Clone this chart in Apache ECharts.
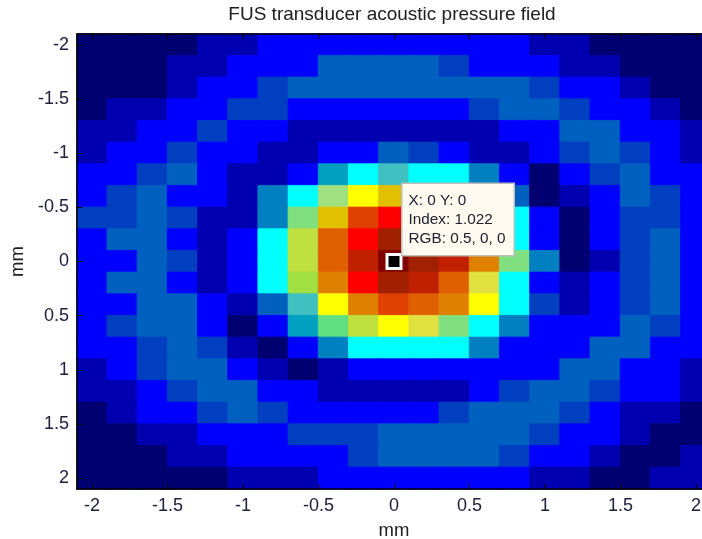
<!DOCTYPE html>
<html><head><meta charset="utf-8">
<style>html,body{margin:0;padding:0;background:#fff;overflow:hidden}#c{width:702px;height:539px}</style>
<script src="https://cdn.jsdelivr.net/npm/echarts@6/dist/echarts.min.js"></script>
</head><body><div id="c"></div>
<script>
const cellCenters = ['-2','-1.8','-1.6','-1.4','-1.2','-1','-0.8','-0.6','-0.4','-0.2','0','0.2','0.4','0.6','0.8','1','1.2','1.4','1.6','1.8','2'];
const tickValues = [-2,-1.5,-1,-0.5,0,0.5,1,1.5,2];
const levelColors = ['#000070','#0000B0','#0000FF','#0040C0','#0060C0','#0080C0','#00A0C0','#00FFFF','#40C0C0','#60E080','#80E080','#A0E080','#A0E040','#C0E040','#E0E040','#FFFF00','#E0C000','#E08000','#E06000','#E04000','#FF0000','#C02000','#A02000','#800000'];
const row00 = [0,0,0,0,1,1,2,2,2,2,2,2,2,2,2,1,1,0,0,0,0];
const row01 = [0,0,0,1,1,2,2,2,4,4,4,4,3,2,2,2,1,1,0,0,0];
const row02 = [0,0,0,1,2,2,3,4,4,4,4,4,4,4,4,3,2,2,1,0,0];
const row03 = [0,1,1,2,2,3,3,2,2,2,2,2,2,3,4,4,3,2,2,1,0];
const row04 = [1,1,2,2,3,2,2,1,1,1,1,1,1,1,2,2,4,4,2,2,1];
const row05 = [1,2,2,3,2,2,1,1,2,2,4,3,2,1,1,2,3,4,3,2,1];
const row06 = [2,2,3,4,2,1,1,2,6,7,8,7,7,5,2,0,2,3,4,2,2];
const row07 = [2,3,4,2,2,1,5,7,11,15,16,13,10,7,4,0,1,2,4,3,2];
const row08 = [3,3,4,3,1,1,5,10,16,19,20,21,18,14,7,2,0,2,3,3,2];
const row09 = [2,4,4,2,1,2,7,13,18,20,22,22,21,17,7,2,0,2,3,4,2];
const row10 = [2,2,4,3,1,2,7,13,18,21,23,22,21,17,10,5,0,1,3,4,2];
const row11 = [2,4,4,2,1,2,7,12,17,20,22,21,18,14,7,2,1,2,3,4,2];
const row12 = [2,2,4,4,2,1,4,8,15,17,19,18,17,15,7,3,1,2,3,4,2];
const row13 = [2,3,4,4,2,0,2,6,9,13,15,14,10,7,5,2,2,2,4,3,2];
const row14 = [2,2,3,4,3,1,0,2,5,7,7,7,7,5,2,2,2,4,4,2,2];
const row15 = [1,2,3,4,4,2,1,0,1,2,2,2,2,2,2,2,4,4,2,2,1];
const row16 = [1,1,2,3,4,4,2,2,1,1,1,1,1,2,3,4,4,3,2,2,1];
const row17 = [0,1,2,2,3,4,3,2,2,2,2,2,3,4,4,4,3,2,1,1,0];
const row18 = [0,0,1,1,2,2,2,3,3,3,4,4,4,4,4,3,2,2,1,0,0];
const row19 = [0,0,0,1,1,2,2,2,2,3,4,4,4,4,3,2,2,1,0,0,1];
const row20 = [0,0,0,0,0,1,1,1,2,2,2,2,2,2,2,1,1,0,0,1,1];
const rows = [row00,row01,row02,row03,row04,row05,row06,row07,row08,row09,row10,row11,row12,row13,row14,row15,row16,row17,row18,row19,row20];
const cursorPoint = [0,0];
const cursorLines = ['X: 0 Y: 0','Index: 1.022','RGB: 0.5, 0, 0'];

const font = 'Liberation Sans, Arial, sans-serif';
const heat = [];
rows.forEach((r,y)=>r.forEach((v,x)=>heat.push({value:[x,y,v],itemStyle:{color:levelColors[v],borderColor:levelColors[v],borderWidth:0.8}})));
const valueAxis = (extra)=>Object.assign({
  type:'value',min:-2.1,max:2.1,z:5,splitLine:{show:false},
  axisLine:{show:true,onZero:false,lineStyle:{color:'#000',width:1.5}},
  axisTick:{show:true,inside:true,length:5,customValues:tickValues,lineStyle:{color:'#000',width:1}},
  axisLabel:{show:true,customValues:tickValues,color:'#20203a',fontFamily:font,fontSize:18,margin:8,formatter:v=>String(v)}
},extra);
const hidden = {show:false};
const chart = echarts.init(document.getElementById('c'),null,{renderer:'canvas'});
chart.setOption({
  animation:false,backgroundColor:'#fff',
  title:{text:'FUS transducer acoustic pressure field',left:387,top:0,textAlign:'center',textStyle:{fontFamily:font,fontSize:19,fontWeight:'normal',color:'#202020'}},
  grid:{left:77,top:34,width:634,height:455,containLabel:false,outerBoundsMode:'none'},
  xAxis:[
    {type:'category',data:cellCenters,position:'bottom',axisLine:hidden,axisTick:hidden,axisLabel:hidden,splitLine:hidden},
    valueAxis({position:'bottom',name:'mm',nameLocation:'middle',nameGap:32,nameTextStyle:{fontFamily:font,fontSize:18.5,color:'#202020'}}),
    valueAxis({position:'top',axisLabel:{show:false}})
  ],
  yAxis:[
    {type:'category',data:cellCenters,inverse:true,position:'left',axisLine:hidden,axisTick:hidden,axisLabel:hidden,splitLine:hidden},
    valueAxis({position:'left',inverse:true,name:'mm',nameLocation:'middle',nameGap:49,nameTextStyle:{fontFamily:font,fontSize:18.5,color:'#202020'}}),
    valueAxis({position:'right',inverse:true,axisLabel:{show:false}})
  ],
  series:[
    {type:'heatmap',xAxisIndex:0,yAxisIndex:0,data:heat,z:2,emphasis:{disabled:true}},
    {type:'scatter',xAxisIndex:1,yAxisIndex:1,z:10,data:[cursorPoint],symbol:'rect',symbolSize:14,silent:true,
     itemStyle:{color:'#000',borderColor:'#fff',borderWidth:3,opacity:1},
     label:{show:true,position:[17,-69],align:'left',verticalAlign:'top',formatter:cursorLines.join('\n'),
       fontFamily:font,fontSize:15.3,lineHeight:19,color:'#202030',backgroundColor:'#FFFAEF',borderColor:'#BDBDBD',borderWidth:1.5,
       padding:[7,9,7,6],width:96}}
  ]
});
</script></body></html>
